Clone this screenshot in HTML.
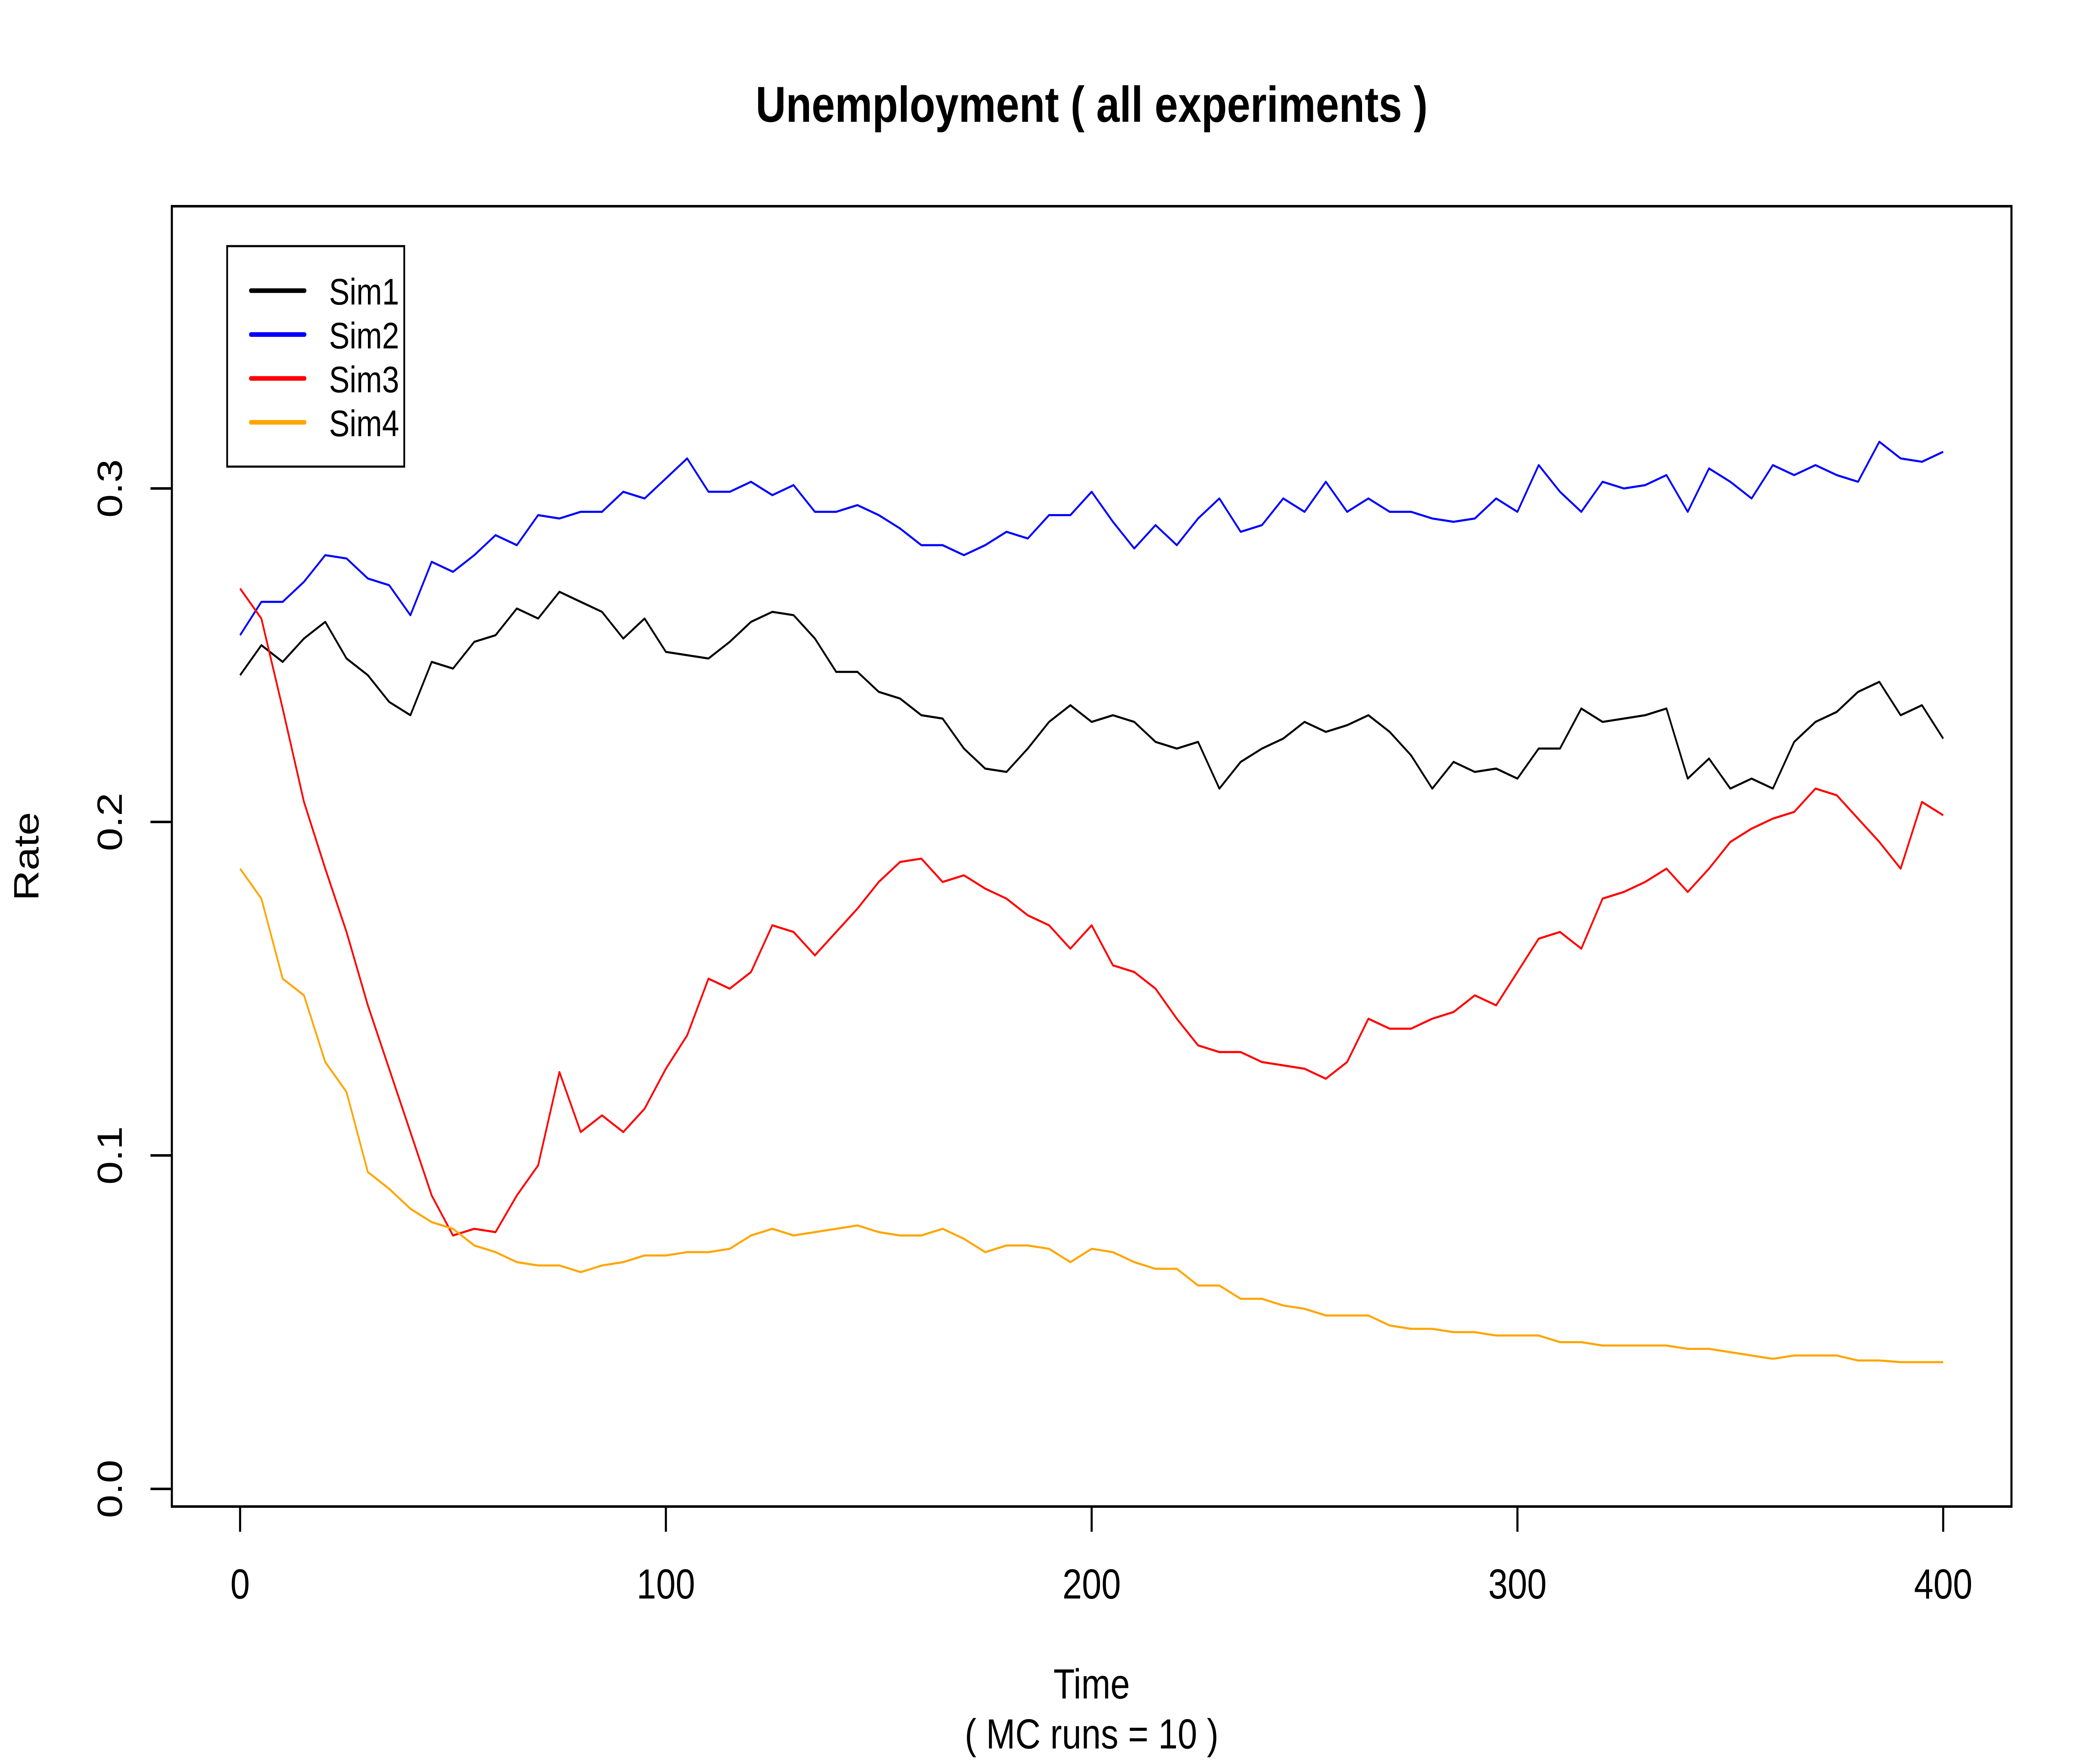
<!DOCTYPE html>
<html><head><meta charset="utf-8"><style>
html,body{margin:0;padding:0;background:#fff;overflow:hidden;width:100%;height:100%;}
svg{display:block;width:100vw;height:100vh;font-family:"Liberation Sans",Arial,sans-serif;}
</style></head><body>
<svg id="chart" viewBox="0 0 6000 4200" preserveAspectRatio="none" xmlns="http://www.w3.org/2000/svg">
<rect x="0" y="0" width="6000" height="4200" fill="#fff"/>
<text x="3119" y="290" text-anchor="middle" font-size="120" font-weight="bold">Unemployment  ( all experiments )</text>
<rect x="491" y="491" width="5256" height="3096" fill="none" stroke="#000" stroke-width="6"/>
<g id="xaxis"></g>
<g id="yaxis"></g>
<text x="3119" y="4044" text-anchor="middle" font-size="100">Time</text>
<text x="3119" y="4163" text-anchor="middle" font-size="100">( MC runs = 10 )</text>
<text x="0" y="0" transform="translate(110,2039) rotate(-90)" text-anchor="middle" font-size="100">Rate</text>
<g id="series"></g>
<g id="legend">
<rect x="649" y="586" width="506" height="525" fill="#fff" stroke="#000" stroke-width="5"/>
</g>
</svg>
<script>
const xTicks = [0, 100, 200, 300, 400];
const yTicks = [0.0, 0.1, 0.2, 0.3];
const yTickLabels = ["0.0", "0.1", "0.2", "0.3"];
const seriesNames = ["Sim1", "Sim2", "Sim3", "Sim4"];
const seriesColors = ["#000000", "#0000ff", "#ff0000", "#ffa500"];
const timeStep = 5;
const sim1 = [0.244,0.253,0.248,0.255,0.260,0.249,0.244,0.236,0.232,0.248,
0.246,0.254,0.256,0.264,0.261,0.269,0.266,0.263,0.255,0.261,
0.251,0.250,0.249,0.254,0.260,0.263,0.262,0.255,0.245,0.245,
0.239,0.237,0.232,0.231,0.222,0.216,0.215,0.222,0.230,0.235,
0.230,0.232,0.230,0.224,0.222,0.224,0.210,0.218,0.222,0.225,
0.230,0.227,0.229,0.232,0.227,0.220,0.210,0.218,0.215,0.216,
0.213,0.222,0.222,0.234,0.230,0.231,0.232,0.234,0.213,0.219,
0.210,0.213,0.210,0.224,0.230,0.233,0.239,0.242,0.232,0.235,
0.225];
const sim2 = [0.256,0.266,0.266,0.272,0.280,0.279,0.273,0.271,0.262,0.278,
0.275,0.280,0.286,0.283,0.292,0.291,0.293,0.293,0.299,0.297,
0.303,0.309,0.299,0.299,0.302,0.298,0.301,0.293,0.293,0.295,
0.292,0.288,0.283,0.283,0.280,0.283,0.287,0.285,0.292,0.292,
0.299,0.290,0.282,0.289,0.283,0.291,0.297,0.287,0.289,0.297,
0.293,0.302,0.293,0.297,0.293,0.293,0.291,0.290,0.291,0.297,
0.293,0.307,0.299,0.293,0.302,0.300,0.301,0.304,0.293,0.306,
0.302,0.297,0.307,0.304,0.307,0.304,0.302,0.314,0.309,0.308,
0.311];
const sim3 = [0.270,0.261,0.234,0.206,0.186,0.167,0.145,0.126,0.107,0.088,
0.076,0.078,0.077,0.088,0.097,0.125,0.107,0.112,0.107,0.114,
0.126,0.136,0.153,0.150,0.155,0.169,0.167,0.160,0.167,0.174,
0.182,0.188,0.189,0.182,0.184,0.180,0.177,0.172,0.169,0.162,
0.169,0.157,0.155,0.150,0.141,0.133,0.131,0.131,0.128,0.127,
0.126,0.123,0.128,0.141,0.138,0.138,0.141,0.143,0.148,0.145,
0.155,0.165,0.167,0.162,0.177,0.179,0.182,0.186,0.179,0.186,
0.194,0.198,0.201,0.203,0.210,0.208,0.201,0.194,0.186,0.206,
0.202];
const sim4 = [0.186,0.177,0.153,0.148,0.128,0.119,0.095,0.090,0.084,0.080,
0.078,0.073,0.071,0.068,0.067,0.067,0.065,0.067,0.068,0.070,
0.070,0.071,0.071,0.072,0.076,0.078,0.076,0.077,0.078,0.079,
0.077,0.076,0.076,0.078,0.075,0.071,0.073,0.073,0.072,0.068,
0.072,0.071,0.068,0.066,0.066,0.061,0.061,0.057,0.057,0.055,
0.054,0.052,0.052,0.052,0.049,0.048,0.048,0.047,0.047,0.046,
0.046,0.046,0.044,0.044,0.043,0.043,0.043,0.043,0.042,0.042,
0.041,0.040,0.039,0.040,0.040,0.040,0.0385,0.0385,0.038,0.038,
0.038];

const NS = "http://www.w3.org/2000/svg";
function xs(t){ return 686 + t * (5552 - 686) / 400; }
function ys(v){ return 3545 - v * (3545 - 1163) / 0.3; }
function mk(tag, attrs, parent){
  const e = document.createElementNS(NS, tag);
  for (const k in attrs) e.setAttribute(k, attrs[k]);
  parent.appendChild(e);
  return e;
}
const xg = document.getElementById('xaxis');
const yg = document.getElementById('yaxis');
const sg = document.getElementById('series');
const lg = document.getElementById('legend');

xTicks.forEach(function(t){
  const l = mk('line', {x1: xs(t), x2: xs(t), y1: 3587, y2: 3647, stroke: '#000', 'stroke-width': 6}, xg);
  
  
  const tx = mk('text', {x: xs(t), y: 3806, 'text-anchor': 'middle', 'font-size': 100}, xg);
  tx.textContent = String(t);
  
  
});
yTicks.forEach(function(v, i){
  const l = mk('line', {x1: 430, x2: 491, y1: ys(v), y2: ys(v), stroke: '#000', 'stroke-width': 6}, yg);
  
  
  const tx = mk('text', {x: 0, y: 0, transform: 'translate(348,' + ys(v) + ') rotate(-90)', 'text-anchor': 'middle', 'font-size': 100}, yg);
  tx.textContent = yTickLabels[i];
  
  
});

const allSeries = [sim1, sim2, sim3, sim4];
allSeries.forEach(function(arr, si){
  const pts = arr.map(function(v, i){ return xs(i * timeStep).toFixed(1) + ',' + ys(v).toFixed(1); }).join(' ');
  const p = mk('polyline', {points: pts, fill: 'none', stroke: seriesColors[si], 'stroke-width': 5, 'stroke-linejoin': 'round'}, sg);
  
  
});

seriesNames.forEach(function(n, i){
  const y = 692 + i * 104.5;
  const l = mk('line', {x1: 717, x2: 870, y1: y, y2: y, stroke: seriesColors[i], 'stroke-width': 11, 'stroke-linecap': 'round'}, lg);
  
  
  const tx = mk('text', {x: 940, y: y + 33, 'font-size': 88}, lg);
  tx.textContent = n;
  
  
});
</script>
</body></html>
